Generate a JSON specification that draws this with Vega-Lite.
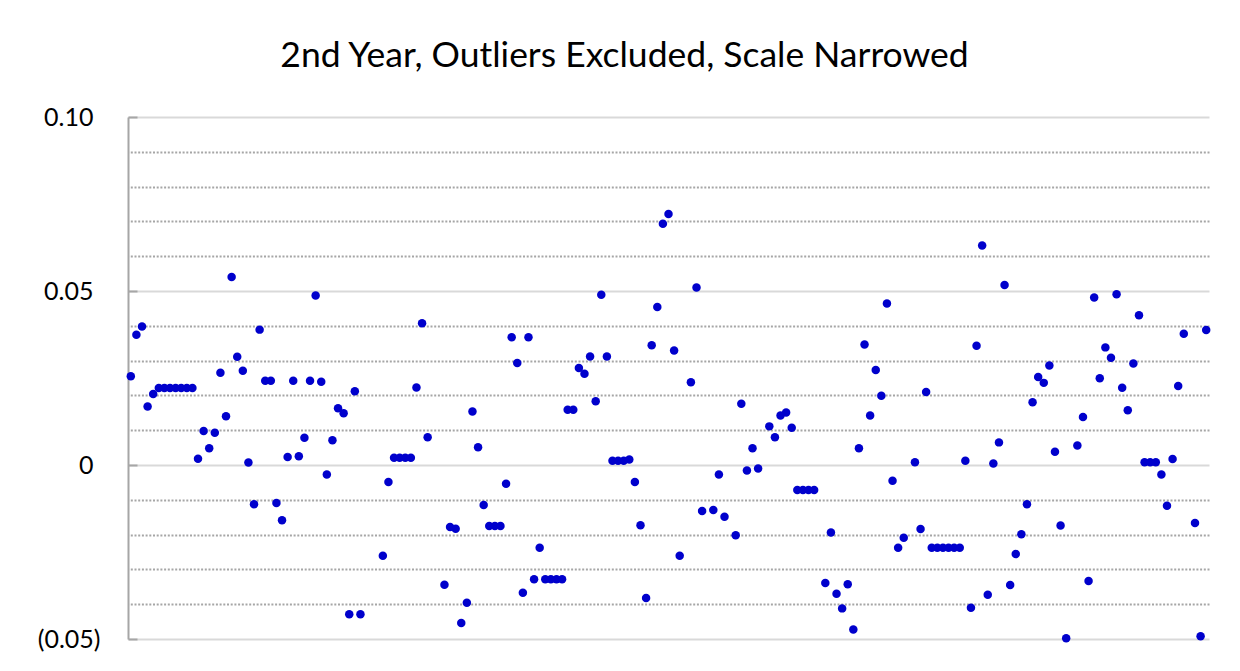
{
  "$schema": "https://vega.github.io/schema/vega-lite/v6.json",
  "autosize": {"type": "none"},
  "padding": {"left": 128, "top": 117, "right": 31, "bottom": 32},
  "width": 1081,
  "height": 522,
  "background": "white",
  "config": {"view": {"stroke": null}},
  "title": {
    "text": "2nd Year, Outliers Excluded, Scale Narrowed",
    "font": "Lato",
    "fontSize": 35.5,
    "fontWeight": "normal",
    "color": "#000000",
    "anchor": "middle",
    "dx": -44,
    "baseline": "alphabetic",
    "offset": 3
  },
  "data": {
    "values": [
      {"i": 1, "v": 0.0255}, {"i": 2, "v": 0.0374}, {"i": 3, "v": 0.0398}, {"i": 4, "v": 0.0168}, {"i": 5, "v": 0.0204},
      {"i": 6, "v": 0.0221}, {"i": 7, "v": 0.0221}, {"i": 8, "v": 0.0221}, {"i": 9, "v": 0.0221}, {"i": 10, "v": 0.0221},
      {"i": 11, "v": 0.0221}, {"i": 12, "v": 0.0221}, {"i": 13, "v": 0.0018}, {"i": 14, "v": 0.0098}, {"i": 15, "v": 0.0048},
      {"i": 16, "v": 0.0093}, {"i": 17, "v": 0.0265}, {"i": 18, "v": 0.0140}, {"i": 19, "v": 0.0540}, {"i": 20, "v": 0.0311},
      {"i": 21, "v": 0.0271}, {"i": 22, "v": 0.0007}, {"i": 23, "v": -0.0113}, {"i": 24, "v": 0.0389}, {"i": 25, "v": 0.0242},
      {"i": 26, "v": 0.0242}, {"i": 27, "v": -0.0109}, {"i": 28, "v": -0.0159}, {"i": 29, "v": 0.0023}, {"i": 30, "v": 0.0242},
      {"i": 31, "v": 0.0025}, {"i": 32, "v": 0.0078}, {"i": 33, "v": 0.0242}, {"i": 34, "v": 0.0487}, {"i": 35, "v": 0.0239},
      {"i": 36, "v": -0.0027}, {"i": 37, "v": 0.0071}, {"i": 38, "v": 0.0163}, {"i": 39, "v": 0.0149}, {"i": 40, "v": -0.0429},
      {"i": 41, "v": 0.0212}, {"i": 42, "v": -0.0429}, {"i": 46, "v": -0.0261}, {"i": 47, "v": -0.0049}, {"i": 48, "v": 0.0021},
      {"i": 49, "v": 0.0021}, {"i": 50, "v": 0.0021}, {"i": 51, "v": 0.0021}, {"i": 52, "v": 0.0223}, {"i": 53, "v": 0.0407},
      {"i": 54, "v": 0.0080}, {"i": 57, "v": -0.0344}, {"i": 58, "v": -0.0178}, {"i": 59, "v": -0.0183}, {"i": 60, "v": -0.0454},
      {"i": 61, "v": -0.0396}, {"i": 62, "v": 0.0154}, {"i": 63, "v": 0.0051}, {"i": 64, "v": -0.0115}, {"i": 65, "v": -0.0175},
      {"i": 66, "v": -0.0175}, {"i": 67, "v": -0.0175}, {"i": 68, "v": -0.0054}, {"i": 69, "v": 0.0367}, {"i": 70, "v": 0.0293},
      {"i": 71, "v": -0.0367}, {"i": 72, "v": 0.0367}, {"i": 73, "v": -0.0328}, {"i": 74, "v": -0.0238}, {"i": 75, "v": -0.0328},
      {"i": 76, "v": -0.0328}, {"i": 77, "v": -0.0328}, {"i": 78, "v": -0.0328}, {"i": 79, "v": 0.0159}, {"i": 80, "v": 0.0159},
      {"i": 81, "v": 0.0279}, {"i": 82, "v": 0.0262}, {"i": 83, "v": 0.0312}, {"i": 84, "v": 0.0183}, {"i": 85, "v": 0.0489},
      {"i": 86, "v": 0.0312}, {"i": 87, "v": 0.0012}, {"i": 88, "v": 0.0012}, {"i": 89, "v": 0.0012}, {"i": 90, "v": 0.0016},
      {"i": 91, "v": -0.0049}, {"i": 92, "v": -0.0173}, {"i": 93, "v": -0.0382}, {"i": 94, "v": 0.0344}, {"i": 95, "v": 0.0454},
      {"i": 96, "v": 0.0693}, {"i": 97, "v": 0.0721}, {"i": 98, "v": 0.0329}, {"i": 99, "v": -0.0261}, {"i": 101, "v": 0.0238},
      {"i": 102, "v": 0.0510}, {"i": 103, "v": -0.0132}, {"i": 105, "v": -0.0129}, {"i": 106, "v": -0.0027}, {"i": 107, "v": -0.0149},
      {"i": 109, "v": -0.0202}, {"i": 110, "v": 0.0176}, {"i": 111, "v": -0.0016}, {"i": 112, "v": 0.0048}, {"i": 113, "v": -0.0010},
      {"i": 115, "v": 0.0111}, {"i": 116, "v": 0.0080}, {"i": 117, "v": 0.0142}, {"i": 118, "v": 0.0151}, {"i": 119, "v": 0.0107},
      {"i": 120, "v": -0.0072}, {"i": 121, "v": -0.0072}, {"i": 122, "v": -0.0072}, {"i": 123, "v": -0.0072}, {"i": 125, "v": -0.0339},
      {"i": 126, "v": -0.0194}, {"i": 127, "v": -0.0370}, {"i": 128, "v": -0.0412}, {"i": 129, "v": -0.0343}, {"i": 130, "v": -0.0473},
      {"i": 131, "v": 0.0048}, {"i": 132, "v": 0.0346}, {"i": 133, "v": 0.0142}, {"i": 134, "v": 0.0273}, {"i": 135, "v": 0.0199},
      {"i": 136, "v": 0.0464}, {"i": 137, "v": -0.0045}, {"i": 138, "v": -0.0238}, {"i": 139, "v": -0.0209}, {"i": 141, "v": 0.0008},
      {"i": 142, "v": -0.0184}, {"i": 143, "v": 0.0210}, {"i": 144, "v": -0.0238}, {"i": 145, "v": -0.0238}, {"i": 146, "v": -0.0238},
      {"i": 147, "v": -0.0238}, {"i": 148, "v": -0.0238}, {"i": 149, "v": -0.0238}, {"i": 150, "v": 0.0012}, {"i": 151, "v": -0.0410},
      {"i": 152, "v": 0.0343}, {"i": 153, "v": 0.0631}, {"i": 154, "v": -0.0373}, {"i": 155, "v": 0.0004}, {"i": 156, "v": 0.0065},
      {"i": 157, "v": 0.0517}, {"i": 158, "v": -0.0345}, {"i": 159, "v": -0.0256}, {"i": 160, "v": -0.0199}, {"i": 161, "v": -0.0113},
      {"i": 162, "v": 0.0180}, {"i": 163, "v": 0.0253}, {"i": 164, "v": 0.0236}, {"i": 165, "v": 0.0286}, {"i": 166, "v": 0.0038},
      {"i": 167, "v": -0.0174}, {"i": 168, "v": -0.0498}, {"i": 170, "v": 0.0056}, {"i": 171, "v": 0.0138}, {"i": 172, "v": -0.0333},
      {"i": 173, "v": 0.0481}, {"i": 174, "v": 0.0249}, {"i": 175, "v": 0.0338}, {"i": 176, "v": 0.0308}, {"i": 177, "v": 0.0491},
      {"i": 178, "v": 0.0222}, {"i": 179, "v": 0.0157}, {"i": 180, "v": 0.0292}, {"i": 181, "v": 0.0430}, {"i": 182, "v": 0.0008},
      {"i": 183, "v": 0.0008}, {"i": 184, "v": 0.0008}, {"i": 185, "v": -0.0027}, {"i": 186, "v": -0.0117}, {"i": 187, "v": 0.0017},
      {"i": 188, "v": 0.0227}, {"i": 189, "v": 0.0377}, {"i": 191, "v": -0.0167}, {"i": 192, "v": -0.0492}, {"i": 193, "v": 0.0388}
    ]
  },
  "encoding": {
    "x": {"field": "i", "type": "quantitative", "scale": {"domain": [0.5, 193.5], "nice": false, "zero": false}, "axis": null}
  },
  "layer": [
    {
      "mark": {"type": "point", "filled": true, "opacity": 0},
      "encoding": {
        "y": {
          "field": "v", "type": "quantitative",
          "scale": {"domain": [-0.05, 0.1], "nice": false, "zero": false},
          "axis": {
            "orient": "right", "title": null, "labels": false, "ticks": false, "domain": false,
            "values": [-0.04, -0.03, -0.02, -0.01, 0.01, 0.02, 0.03, 0.04, 0.06, 0.07, 0.08, 0.09],
            "grid": true, "gridColor": "#a6a6a6", "gridWidth": 2, "gridDash": [2, 1.7]
          }
        }
      }
    },
    {
      "mark": {"type": "point", "filled": true, "opacity": 1, "color": "#0000cc", "size": 72},
      "encoding": {
        "y": {
          "field": "v", "type": "quantitative",
          "scale": {"domain": [-0.05, 0.1], "nice": false, "zero": false},
          "axis": {
            "orient": "left", "title": null,
            "values": [-0.05, 0, 0.05, 0.1],
            "labelExpr": "datum.value < 0 ? '(' + format(-datum.value, '.2f') + ')' : (datum.value == 0 ? '0' : format(datum.value, '.2f'))",
            "labelFont": "Lato", "labelFontSize": 25, "labelColor": "#000000",
            "labelPadding": {"condition": {"test": "datum.value < 0", "value": 37}, "value": 44},
            "labelBaseline": "middle",
            "labelFlush": false,
            "ticks": true, "tickSize": -9, "tickColor": "#a6a6a6", "tickWidth": 2,
            "domain": true, "domainColor": "#a6a6a6", "domainWidth": 2,
            "grid": true, "gridColor": "#d9d9d9", "gridWidth": 2
          }
        }
      }
    }
  ],
  "resolve": {"axis": {"y": "independent"}}
}
